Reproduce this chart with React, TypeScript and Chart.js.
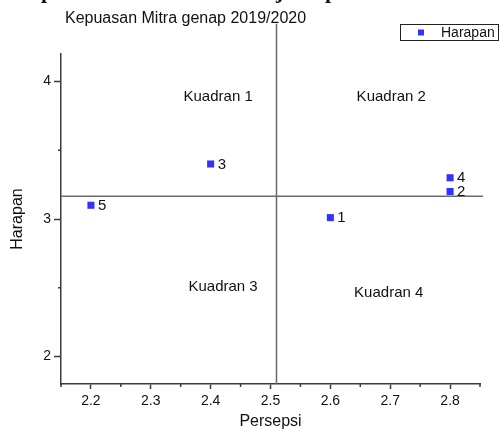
import React, { useEffect, useRef } from "react";
import { Chart, registerables } from "chart.js";

Chart.register(...registerables);

// ---- data ----
const pointLabels = ["1", "2", "3", "4", "5"];
const persepsi = [2.6, 2.8, 2.4, 2.8, 2.2];
const harapan = [3.01, 3.2, 3.4, 3.3, 3.1];

const xTickValues = [2.2, 2.3, 2.4, 2.5, 2.6, 2.7, 2.8];
const xMinorTicks = [2.15, 2.25, 2.35, 2.45, 2.55, 2.65, 2.75, 2.85];
const yTickValues = [2, 3, 4];
const yMinorTicks = [2.5, 3.5];

const xRange = [2.15, 2.85];
const yRange = [1.8, 4.2];

// quadrant divider lines (data units)
const dividerX = 2.51;
const dividerY = 3.165;
const dividerXTop = 4.42;
const dividerYRight = 2.855;

const quadrantNames = ["Kuadran 1", "Kuadran 2", "Kuadran 3", "Kuadran 4"];
const quadrantX = [2.4125, 2.7017, 2.4208, 2.6975];
const quadrantY = [3.855, 3.855, 2.478, 2.434];

const chartTitle = "Kepuasan Mitra genap 2019/2020";
const xTitle = "Persepsi";
const yTitle = "Harapan";
const seriesName = "Harapan";
const clippedHeading = ["p", "j", "p"];

const FONT = "'Liberation Sans', Arial, sans-serif";
const MARK = "#3333ff";
const AXIS = "#3a3a3a";
const DIV = "#6a6a6a";

const overlay = {
  id: "overlay",
  beforeDatasetsDraw(chart: any) {
    const { ctx } = chart;
    const xs = chart.scales.x;
    const ys = chart.scales.y;
    ctx.save();
    ctx.strokeStyle = DIV;
    ctx.lineWidth = 1.5;
    const vx = xs.getPixelForValue(dividerX);
    ctx.beginPath();
    ctx.moveTo(vx, ys.getPixelForValue(dividerXTop));
    ctx.lineTo(vx, ys.getPixelForValue(yRange[0]));
    ctx.stroke();
    const hy = ys.getPixelForValue(dividerY);
    ctx.beginPath();
    ctx.moveTo(xs.getPixelForValue(xRange[0]), hy);
    ctx.lineTo(xs.getPixelForValue(dividerYRight), hy);
    ctx.stroke();
    ctx.restore();
  },
  afterDraw(chart: any) {
    const { ctx, chartArea } = chart;
    const xs = chart.scales.x;
    const ys = chart.scales.y;
    ctx.save();
    // minor ticks
    ctx.strokeStyle = AXIS;
    ctx.lineWidth = 1.5;
    xMinorTicks.forEach((v) => {
      const px = xs.getPixelForValue(v);
      ctx.beginPath();
      ctx.moveTo(px, chartArea.bottom);
      ctx.lineTo(px, chartArea.bottom + 3);
      ctx.stroke();
    });
    yMinorTicks.forEach((v) => {
      const py = ys.getPixelForValue(v);
      ctx.beginPath();
      ctx.moveTo(chartArea.left, py);
      ctx.lineTo(chartArea.left - 3, py);
      ctx.stroke();
    });

    ctx.fillStyle = "#111";
    // quadrant labels
    ctx.font = `15px ${FONT}`;
    ctx.textAlign = "center";
    ctx.textBaseline = "alphabetic";
    quadrantNames.forEach((n, i) => {
      ctx.fillText(n, xs.getPixelForValue(quadrantX[i]), ys.getPixelForValue(quadrantY[i]));
    });

    // point labels
    ctx.textAlign = "left";
    ctx.textBaseline = "middle";
    pointLabels.forEach((l, i) => {
      ctx.fillText(l, xs.getPixelForValue(persepsi[i]) + 7, ys.getPixelForValue(harapan[i]) + 0.5);
    });

    // title
    ctx.font = `16px ${FONT}`;
    ctx.textAlign = "left";
    ctx.textBaseline = "alphabetic";
    ctx.fillText(chartTitle, 65, 23);

    // axis titles
    ctx.textAlign = "center";
    ctx.fillText(xTitle, (chartArea.left + chartArea.right) / 2, 426);
    ctx.save();
    ctx.translate(21.5, (chartArea.top + chartArea.bottom) / 2);
    ctx.rotate(-Math.PI / 2);
    ctx.fillText(yTitle, 0, 0);
    ctx.restore();

    // clipped heading fragments at the very top
    ctx.font = `bold 22px 'Liberation Serif', 'Times New Roman', serif`;
    ctx.textAlign = "left";
    ctx.fillText(clippedHeading[0], 41, -2);
    ctx.fillText(clippedHeading[1], 276, -2);
    ctx.fillText(clippedHeading[2], 325, -2);

    // legend
    const bx = 400.5, by = 24.5, bw = 98, bh = 16;
    ctx.strokeStyle = "#222";
    ctx.lineWidth = 1;
    ctx.strokeRect(bx, by, bw, bh);
    ctx.fillStyle = MARK;
    ctx.fillRect(418, by + bh / 2 - 3, 6, 6);
    ctx.fillStyle = "#111";
    ctx.font = `14px ${FONT}`;
    ctx.textBaseline = "middle";
    ctx.fillText(seriesName, 441, by + bh / 2 + 0.5);
    ctx.restore();
  },
};

export default function App() {
  const ref = useRef<HTMLCanvasElement | null>(null);
  useEffect(() => {
    if (!ref.current) return;
    const chart = new Chart(ref.current, {
      type: "scatter",
      data: {
        datasets: [
          {
            label: seriesName,
            data: persepsi.map((x, i) => ({ x, y: harapan[i] })),
            pointStyle: "rect",
            pointRadius: 5,
            pointBorderWidth: 0,
            backgroundColor: MARK,
            borderColor: MARK,
          },
        ],
      },
      options: {
        animation: false,
        responsive: false,
        maintainAspectRatio: false,
        layout: { padding: { left: 0, right: 20, top: 54, bottom: 0 } },
        plugins: { legend: { display: false }, tooltip: { enabled: false }, title: { display: false } },
        scales: {
          x: {
            type: "linear",
            min: xRange[0],
            max: xRange[1],
            afterBuildTicks: (s: any) => {
              s.ticks = xTickValues.map((v) => ({ value: v }));
            },
            afterFit: (s: any) => {
              s.height = 52;
            },
            border: { display: true, color: AXIS, width: 1.5 },
            grid: { drawOnChartArea: false, drawTicks: true, tickLength: 5, tickColor: AXIS, tickWidth: 1.5 },
            ticks: {
              padding: 4,
              color: "#111",
              font: { family: FONT, size: 14 },
              callback: (v: any) => Number(v).toFixed(1),
              maxRotation: 0,
              autoSkip: false,
            },
          },
          y: {
            type: "linear",
            min: yRange[0],
            max: yRange[1],
            afterBuildTicks: (s: any) => {
              s.ticks = yTickValues.map((v) => ({ value: v }));
            },
            afterFit: (s: any) => {
              s.width = 61;
            },
            border: { display: true, color: AXIS, width: 1.5 },
            grid: { drawOnChartArea: false, drawTicks: true, tickLength: 7, tickColor: AXIS, tickWidth: 1.5 },
            ticks: {
              padding: 3,
              color: "#111",
              font: { family: FONT, size: 14 },
              callback: (v: any) => String(Math.round(Number(v))),
              autoSkip: false,
            },
          },
        },
      },
      plugins: [overlay],
    });
    return () => chart.destroy();
  }, []);
  return (
    <div style={{ position: "fixed", left: 0, top: 0, width: 500, height: 436, background: "#fff" }}>
      <canvas ref={ref} width={500} height={436} style={{ width: 500, height: 436, display: "block" }} />
    </div>
  );
}
